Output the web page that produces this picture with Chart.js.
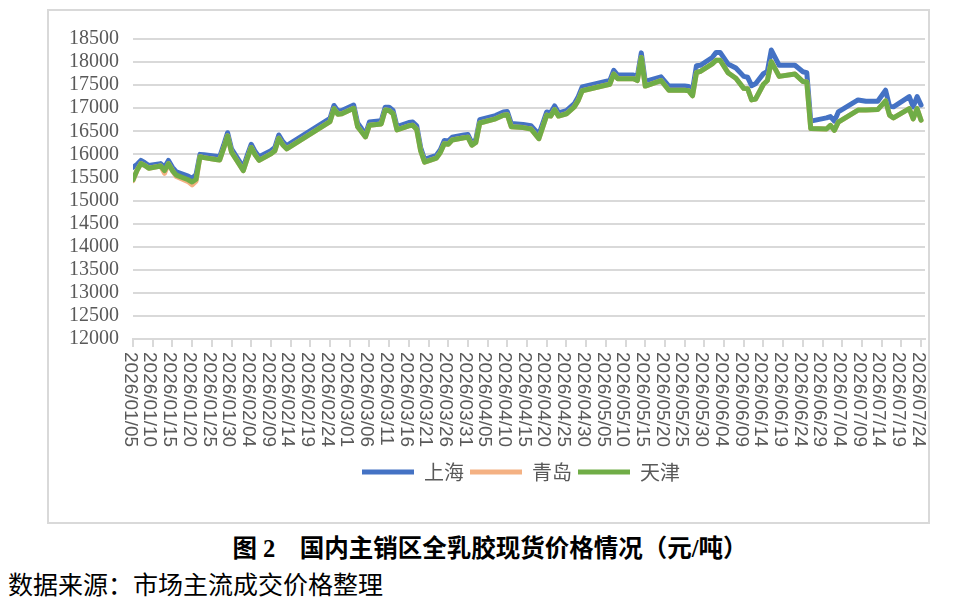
<!DOCTYPE html>
<html>
<head>
<meta charset="utf-8">
<script src="https://cdn.jsdelivr.net/npm/chart.js@4.4.1/dist/chart.umd.min.js"></script>
<style>
  body { margin: 0; background: #fff; width: 970px; height: 604px; position: relative; overflow: hidden; }
  .box { position: absolute; left: 47px; top: 9px; width: 883px; height: 515px; border: 2px solid #d9d9d9; box-sizing: border-box; }
  .box canvas { display: block; }
  .caption { position: absolute; left: 0; top: 536px; width: 980px; text-align: center; font: bold 24.5px "Liberation Serif", "Noto Sans CJK SC"; line-height: 26px; color: #000; white-space: nowrap; }
  .source { position: absolute; left: 8px; top: 570px; font: 25px "Noto Sans CJK SC"; line-height: 26px; color: #000; white-space: nowrap; }
</style>
</head>
<body>
<div class="box"><canvas id="chart" width="879" height="511"></canvas></div>
<div class="caption">图 2　国内主销区全乳胶现货价格情况（元/吨）</div>
<div class="source">数据来源：市场主流成交价格整理</div>
<script>
var startDate = '2026/01/05';

var dates = [
  '2026/01/05','2026/01/06','2026/01/07','2026/01/08','2026/01/09','2026/01/12','2026/01/13','2026/01/14','2026/01/15','2026/01/16',
  '2026/01/19','2026/01/20','2026/01/21','2026/01/22','2026/01/23','2026/01/26','2026/01/27','2026/01/28','2026/01/29','2026/01/30',
  '2026/02/02','2026/02/03','2026/02/04','2026/02/05','2026/02/06','2026/02/09','2026/02/10','2026/02/11','2026/02/12','2026/02/13',
  '2026/02/24','2026/02/25','2026/02/26','2026/02/27','2026/03/02','2026/03/03','2026/03/04','2026/03/05','2026/03/06','2026/03/09',
  '2026/03/10','2026/03/11','2026/03/12','2026/03/13','2026/03/16','2026/03/17','2026/03/18','2026/03/19','2026/03/20','2026/03/23',
  '2026/03/24','2026/03/25','2026/03/26','2026/03/27','2026/03/30','2026/03/31','2026/04/01','2026/04/02','2026/04/03','2026/04/07',
  '2026/04/09','2026/04/10','2026/04/11','2026/04/14','2026/04/16','2026/04/18','2026/04/20','2026/04/21','2026/04/22','2026/04/23',
  '2026/04/25','2026/04/27','2026/04/28','2026/04/29','2026/05/06','2026/05/07','2026/05/08','2026/05/12','2026/05/13','2026/05/14',
  '2026/05/15','2026/05/19','2026/05/21','2026/05/25','2026/05/26','2026/05/27','2026/05/28','2026/05/29','2026/06/01','2026/06/02',
  '2026/06/03','2026/06/05','2026/06/07','2026/06/09','2026/06/10','2026/06/11','2026/06/12','2026/06/14','2026/06/15','2026/06/16',
  '2026/06/18','2026/06/22','2026/06/24','2026/06/25','2026/06/26','2026/06/30','2026/07/01','2026/07/02','2026/07/03','2026/07/08',
  '2026/07/10','2026/07/13','2026/07/15','2026/07/16','2026/07/17','2026/07/21','2026/07/22','2026/07/23','2026/07/24'
];

var shanghai = [
  15720,15780,15870,15820,15760,15800,15720,15870,15720,15620,
  15530,15480,15560,16000,15990,15960,15950,16200,16470,16120,
  15720,15980,16220,16060,15950,16080,16150,16420,16280,16190,
  16780,17060,16940,16950,17070,16680,16560,16430,16700,16730,
  17020,17020,16950,16600,16690,16700,16620,16150,15890,15980,
  16100,16300,16290,16370,16420,16430,16250,16320,16750,16840,
  16920,16930,16670,16650,16620,16430,16920,16900,17050,16900,
  16950,17100,17250,17460,17600,17820,17720,17720,17690,18200,
  17580,17680,17480,17480,17470,17390,17920,17930,18100,18210,
  18210,17960,17870,17690,17670,17490,17530,17750,17800,18260,
  17930,17930,17790,17770,16720,16790,16820,16720,16920,17180,
  17150,17150,17390,17040,17030,17250,17030,17250,17070
];

var qingdao = [
  15430,15650,15800,15760,15700,15750,15590,15800,15650,15520,
  15410,15340,15420,15950,15930,15890,15880,16130,16400,16050,
  15650,15910,16150,15990,15870,16010,16080,16350,16210,16120,
  16710,16990,16870,16880,17000,16600,16490,16380,16630,16660,
  16960,16950,16880,16530,16620,16630,16540,16080,15830,15920,
  16040,16230,16220,16310,16360,16370,16200,16260,16680,16770,
  16850,16860,16600,16580,16550,16340,16850,16830,16970,16830,
  16880,17030,17170,17380,17520,17740,17640,17640,17600,18100,
  17480,17600,17390,17390,17380,17270,17770,17800,17960,18040,
  18040,17770,17650,17430,17420,17180,17200,17520,17600,18010,
  17690,17740,17580,17570,16560,16550,16630,16520,16700,16960,
  16960,16970,17160,16850,16790,16990,16770,16990,16740
];

var tianjin = [
  15450,15650,15800,15760,15700,15750,15650,15800,15650,15550,
  15450,15400,15460,15950,15930,15890,15880,16130,16400,16050,
  15650,15910,16150,15990,15870,16010,16080,16350,16210,16120,
  16710,16990,16870,16880,17000,16600,16490,16380,16630,16660,
  16960,16950,16880,16530,16620,16630,16540,16080,15830,15920,
  16040,16230,16220,16310,16360,16370,16200,16260,16680,16770,
  16850,16860,16600,16580,16550,16340,16850,16830,16970,16830,
  16880,17030,17170,17380,17520,17740,17640,17640,17600,18100,
  17480,17600,17390,17390,17380,17270,17770,17800,17960,18040,
  18040,17770,17650,17430,17420,17180,17200,17520,17600,18010,
  17690,17740,17580,17570,16560,16550,16630,16520,16700,16960,
  16960,16970,17160,16850,16790,16990,16770,16990,16740
];

var seriesNames = ['上海', '青岛', '天津'];
var seriesColors = ['#4472C4', '#F4B183', '#70AD47'];

function toDay(s) {
  var p = s.split('/'), b = startDate.split('/');
  return (Date.UTC(+p[0], p[1] - 1, +p[2]) - Date.UTC(+b[0], b[1] - 1, +b[2])) / 86400000;
}

function dayLabel(n) {
  var b = startDate.split('/');
  var d = new Date(Date.UTC(+b[0], b[1] - 1, +b[2]) + n * 86400000);
  var pad = function(v){ return (v < 10 ? '0' : '') + v; };
  return d.getUTCFullYear() + '/' + pad(d.getUTCMonth() + 1) + '/' + pad(d.getUTCDate());
}

function points(values) {
  var ret = [];
  for (var i = 0, l = dates.length; i < l; i++) {
    ret.push({ x: toDay(dates[i]), y: values[i] });
  }
  return ret;
}

// labels in the reference read top to bottom, so they are drawn here
var verticalTicks = {
  id: 'verticalTicks',
  afterDraw: function(chart) {
    var xs = chart.scales.x, ctx = chart.ctx;
    ctx.save();
    ctx.font = '19px "Liberation Sans"';
    ctx.fillStyle = '#595959';
    ctx.textAlign = 'left';
    ctx.textBaseline = 'middle';
    for (var i = 0; i < xs.ticks.length; i++) {
      var v = xs.ticks[i].value;
      ctx.save();
      ctx.translate(xs.getPixelForValue(v) - 3, xs.top + 13);
      ctx.rotate(Math.PI / 2);
      ctx.fillText(dayLabel(v), 0, 0);
      ctx.restore();
    }
    ctx.restore();
  }
};

// the legend sits a bit right of the box centre, as in the reference
var legendShift = {
  id: 'legendShift',
  afterLayout: function(chart) {
    chart.legend.left += 34;
    chart.legend.right += 34;
  }
};

var allValues = [shanghai, qingdao, tianjin];
var datasets = [];
for (var i = 0; i < 3; i++) {
  datasets.push({
    label: seriesNames[i],
    data: points(allValues[i]),
    borderColor: seriesColors[i],
    backgroundColor: seriesColors[i],
    borderWidth: 5,
    borderCapStyle: 'round',
    borderJoinStyle: 'round',
    pointRadius: 0,
    tension: 0,
    order: 3 - i
  });
}

new Chart(document.getElementById('chart'), {
  type: 'line',
  data: { datasets: datasets },
  plugins: [verticalTicks, legendShift],
  options: {
    responsive: false,
    animation: false,
    layout: { autoPadding: false, padding: { left: 0, right: 3, top: 28, bottom: 30 } },
    plugins: {
      tooltip: { enabled: false },
      legend: {
        position: 'bottom',
        labels: {
          usePointStyle: true,
          pointStyle: 'line',
          pointStyleWidth: 52,
          boxWidth: 52,
          boxHeight: 20,
          padding: 6,
          color: '#595959',
          font: { family: '"Noto Sans CJK SC"', size: 20 },
          sort: function(a, b){ return a.datasetIndex - b.datasetIndex; }
        }
      }
    },
    scales: {
      x: {
        type: 'linear',
        min: 0,
        max: 201,
        afterFit: function(s){ s.height = 117; },
        ticks: { stepSize: 5, includeBounds: false, autoSkip: false, display: false },
        grid: { drawOnChartArea: false, drawTicks: true, tickLength: 8, color: '#d9d9d9', lineWidth: 2 },
        border: { color: '#d9d9d9', width: 2 }
      },
      y: {
        min: 12000,
        max: 18500,
        afterFit: function(s){ s.width = 84; },
        ticks: {
          stepSize: 500,
          autoSkip: false,
          padding: 14,
          color: '#595959',
          font: { family: '"Liberation Serif"', size: 20 },
          callback: function(v){ return String(v); }
        },
        grid: { color: '#d9d9d9', lineWidth: 2, drawTicks: false },
        border: { display: false }
      }
    }
  }
});
</script>
</body>
</html>
